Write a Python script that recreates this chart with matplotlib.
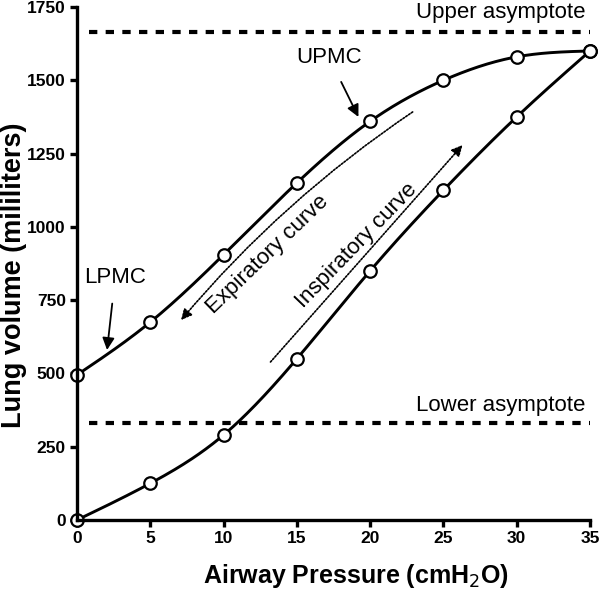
import matplotlib
matplotlib.use("Agg")
import matplotlib.pyplot as plt
import numpy as np

plt.rcParams['font.family'] = ['Liberation Sans', 'DejaVu Sans']

# pressure (cmH2O) and volume (ml)
pressure = [0, 5, 10, 15, 20, 25, 30, 35]
insp_vol = [0, 125, 290, 550, 850, 1125, 1375, 1600]
exp_vol = [495, 675, 905, 1150, 1360, 1500, 1580, 1600]
upper_asym = 1665
lower_asym = 330


def spline(x, y, n=300):
    # natural cubic spline through the points (just for drawing the smooth line)
    x = np.asarray(x, float)
    y = np.asarray(y, float)
    k = len(x)
    h = np.diff(x)
    A = np.zeros((k, k))
    r = np.zeros(k)
    A[0, 0] = A[-1, -1] = 1
    for i in range(1, k - 1):
        A[i, i - 1] = h[i - 1]
        A[i, i] = 2 * (h[i - 1] + h[i])
        A[i, i + 1] = h[i]
        r[i] = 3 * ((y[i + 1] - y[i]) / h[i] - (y[i] - y[i - 1]) / h[i - 1])
    c = np.linalg.solve(A, r)
    xs = np.linspace(x[0], x[-1], n)
    ys = np.empty_like(xs)
    for j, xv in enumerate(xs):
        i = min(np.searchsorted(x, xv, side='right') - 1, k - 2)
        d = xv - x[i]
        b = (y[i + 1] - y[i]) / h[i] - h[i] * (2 * c[i] + c[i + 1]) / 3
        dd = (c[i + 1] - c[i]) / (3 * h[i])
        ys[j] = y[i] + b * d + c[i] * d ** 2 + dd * d ** 3
    return xs, ys


fig = plt.figure(figsize=(6, 5.92), dpi=100)
ax = fig.add_axes([77 / 600, 72 / 592, 513 / 600, 513 / 592])

for vol in (insp_vol, exp_vol):
    xs, ys = spline(pressure, vol)
    ax.plot(xs, ys, color='black', lw=2.1, clip_on=False, zorder=2)
    ax.plot(pressure, vol, 'o', ms=9, mfc='white', mec='black', mew=1.6,
            clip_on=False, zorder=2.2)

ax.plot([0.8, 35], [upper_asym, upper_asym], color='black', lw=3, ls=(0, (2, 2)))
ax.plot([0.8, 35], [lower_asym, lower_asym], color='black', lw=3, ls=(0, (2, 2)))

ax.text(34.7, 1730, 'Upper asymptote', ha='right', va='center', fontsize=16)
ax.text(34.7, 392, 'Lower asymptote', ha='right', va='center', fontsize=16)

ax.annotate('UPMC', xy=(19.2, 1375), xytext=(17.2, 1578), ha='center', va='center',
            fontsize=16,
            arrowprops=dict(arrowstyle='-|>', color='black', lw=1.3, shrinkA=9, shrinkB=0,
                            mutation_scale=18))
ax.annotate('LPMC', xy=(2.05, 580), xytext=(2.6, 826), ha='center', va='center',
            fontsize=16,
            arrowprops=dict(arrowstyle='-|>', color='black', lw=1.3, shrinkA=9, shrinkB=0,
                            mutation_scale=18))

# dotted direction arrows
ax.annotate('', xy=(7.1, 682), xytext=(22.9, 1392),
            arrowprops=dict(arrowstyle='-|>', color='black', lw=1.2, ls=(0, (1, 1)),
                            shrinkA=0, shrinkB=0, mutation_scale=16,
                            connectionstyle='arc3,rad=0.07'))
ax.annotate('', xy=(26.3, 1279), xytext=(13.2, 539),
            arrowprops=dict(arrowstyle='-|>', color='black', lw=1.2, ls=(0, (1, 1)),
                            shrinkA=0, shrinkB=0, mutation_scale=16))

ax.text(13.0, 904, 'Expiratory curve', rotation=44, rotation_mode='anchor',
        ha='center', va='center', fontsize=16)
ax.text(19.05, 935, 'Inspiratory curve', rotation=46, rotation_mode='anchor',
        ha='center', va='center', fontsize=16)

ax.set_xlim(0, 35)
ax.set_ylim(0, 1750)
ax.set_xticks([0, 5, 10, 15, 20, 25, 30, 35])
ax.set_yticks([0, 250, 500, 750, 1000, 1250, 1500, 1750])
ax.spines['top'].set_visible(False)
ax.spines['right'].set_visible(False)
for s in ('left', 'bottom'):
    ax.spines[s].set_linewidth(2.4)
    ax.spines[s].set_zorder(3)
ax.tick_params(width=2.4, length=5, labelsize=12.5, pad=3)
for lab in ax.get_xticklabels() + ax.get_yticklabels():
    lab.set_fontweight('bold')

ax.set_xlabel('Airway Pressure (cmH$_2$O)', fontsize=18, fontweight='bold')
ax.set_ylabel('Lung volume (mililiters)', fontsize=19.5, fontweight='bold')
ax.xaxis.set_label_coords((356 - 77) / 513, -(576 - 520) / 513)
ax.yaxis.set_label_coords(-(77 - 14) / 513, (520 - 275) / 513)
ax.xaxis.label.set_va('center')
ax.yaxis.label.set_va('center')

fig.savefig('out.png', dpi=100)
